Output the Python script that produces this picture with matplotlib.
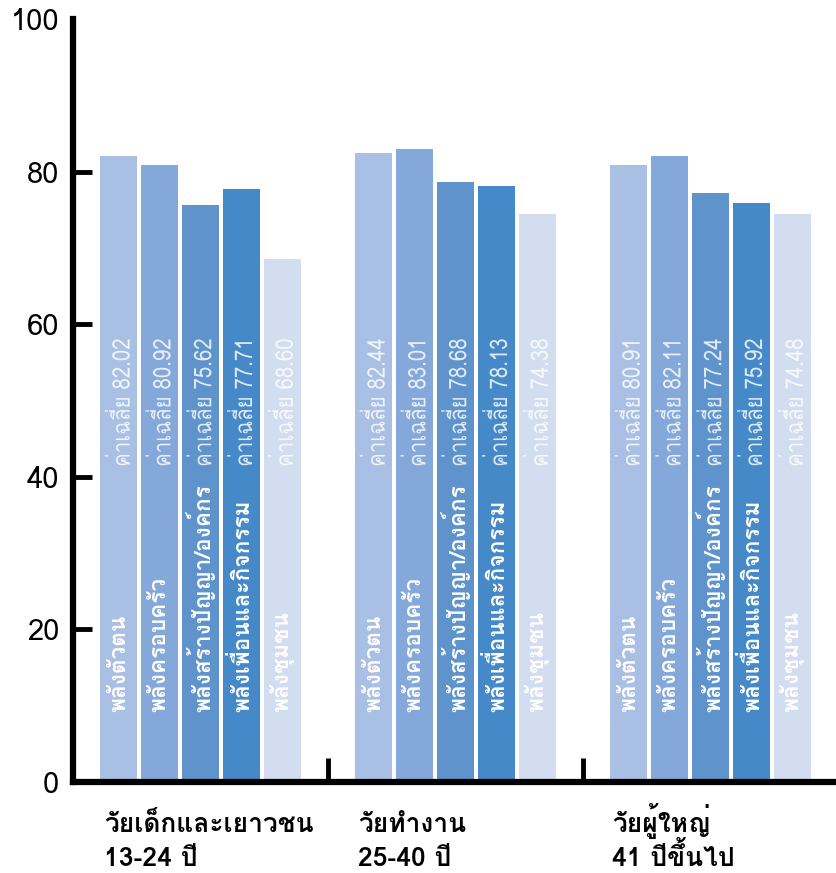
import numpy as np
import matplotlib
matplotlib.use('Agg')
import matplotlib.pyplot as plt
from matplotlib import font_manager
from matplotlib.ft2font import FT2Font
from matplotlib.textpath import TextPath
from matplotlib.patches import PathPatch
from matplotlib.transforms import Affine2D

group_names = ['วัยเด็กและเยาวชน', 'วัยทำงาน', 'วัยผู้ใหญ่']
group_ages = ['13-24 ปี', '25-40 ปี', '41 ปีขึ้นไป']
series = ['พลังตัวตน', 'พลังครอบครัว', 'พลังสร้างปัญญา/องค์กร', 'พลังเพื่อนและกิจกรรม', 'พลังชุมชน']
values = [
    [82.02, 80.92, 75.62, 77.71, 68.60],
    [82.44, 83.01, 78.68, 78.13, 74.38],
    [80.91, 82.11, 77.24, 75.92, 74.48],
]
colors = ['#AABFE4', '#85A8DA', '#5E93CC', '#4689C8', '#D3DDF0']
yticks = [0, 20, 40, 60, 80, 100]


# find any installed font that has thai glyphs
def thai_fonts():
    found = []
    for f in font_manager.fontManager.ttflist:
        try:
            cmap = FT2Font(f.fname).get_charmap()
        except Exception:
            continue
        if 0x0E01 in cmap and f.name not in found:
            found.append(f.name)
    return found


thai = thai_fonts()
fam = thai[:1] + ['DejaVu Sans']
plt.rcParams['font.family'] = fam

DPI = 100
fig = plt.figure(figsize=(8.36, 8.73), dpi=DPI)
ax = fig.add_axes([73 / 836, 91 / 873, 765 / 836, 763 / 873])
ax.set_xlim(-0.5, 2.5)
ax.set_ylim(0, 100)

pitch = 0.16
width = 0.145
val_size = 17.5 * DPI / 72.0  # pixels
val_prop = font_manager.FontProperties(family=fam[0])

for g in range(len(group_names)):
    for s in range(len(series)):
        x = g + (s - 2) * pitch
        v = values[g][s]
        ax.bar(x, v, width=width, color=colors[s], zorder=2)
        ax.text(x, 9.2, series[s], rotation=90, rotation_mode='anchor',
                ha='left', va='center', color='white', fontsize=16.3,
                fontweight='bold', family=fam, zorder=3)
        # value label drawn as a path: rotated bitmap text mangles thai marks
        # squeezed a bit along the text to look like the condensed original
        tp = TextPath((0, 0), 'ค่าเฉลี่ย %.2f' % v, size=val_size, prop=val_prop)
        px, py = ax.transData.transform((x, 41.3))
        tr = (Affine2D().scale(0.84, 1).translate(0, -0.36 * val_size)
              .rotate_deg(90).translate(px + 2, py))
        ax.add_patch(PathPatch(tp, transform=tr, facecolor='white', edgecolor='none',
                               alpha=0.82, zorder=3))
    # group labels under the axis, two lines on fixed baselines
    gx = (104 + g * 254) / 836
    fig.text(gx, 1 - 832 / 873, group_names[g], ha='left', va='baseline',
             fontsize=19, fontweight='bold', family=fam)
    fig.text(gx, 1 - 866 / 873, group_ages[g], ha='left', va='baseline',
             fontsize=19, fontweight='bold', family=fam)

ax.set_yticks(yticks)
ax.set_xticks([0.5, 1.5, 2.5])
ax.set_xticklabels([])
ax.tick_params(axis='y', direction='in', length=14, width=3.5, labelsize=21, pad=10)
ax.tick_params(axis='x', direction='in', length=17, width=3.5)
ax.yaxis.get_major_ticks()[-1].tick1line.set_visible(False)
for side in ['top', 'right']:
    ax.spines[side].set_visible(False)
for side in ['left', 'bottom']:
    ax.spines[side].set_linewidth(4.5)
    ax.spines[side].set_capstyle('projecting')

fig.savefig('out.png', dpi=DPI)
